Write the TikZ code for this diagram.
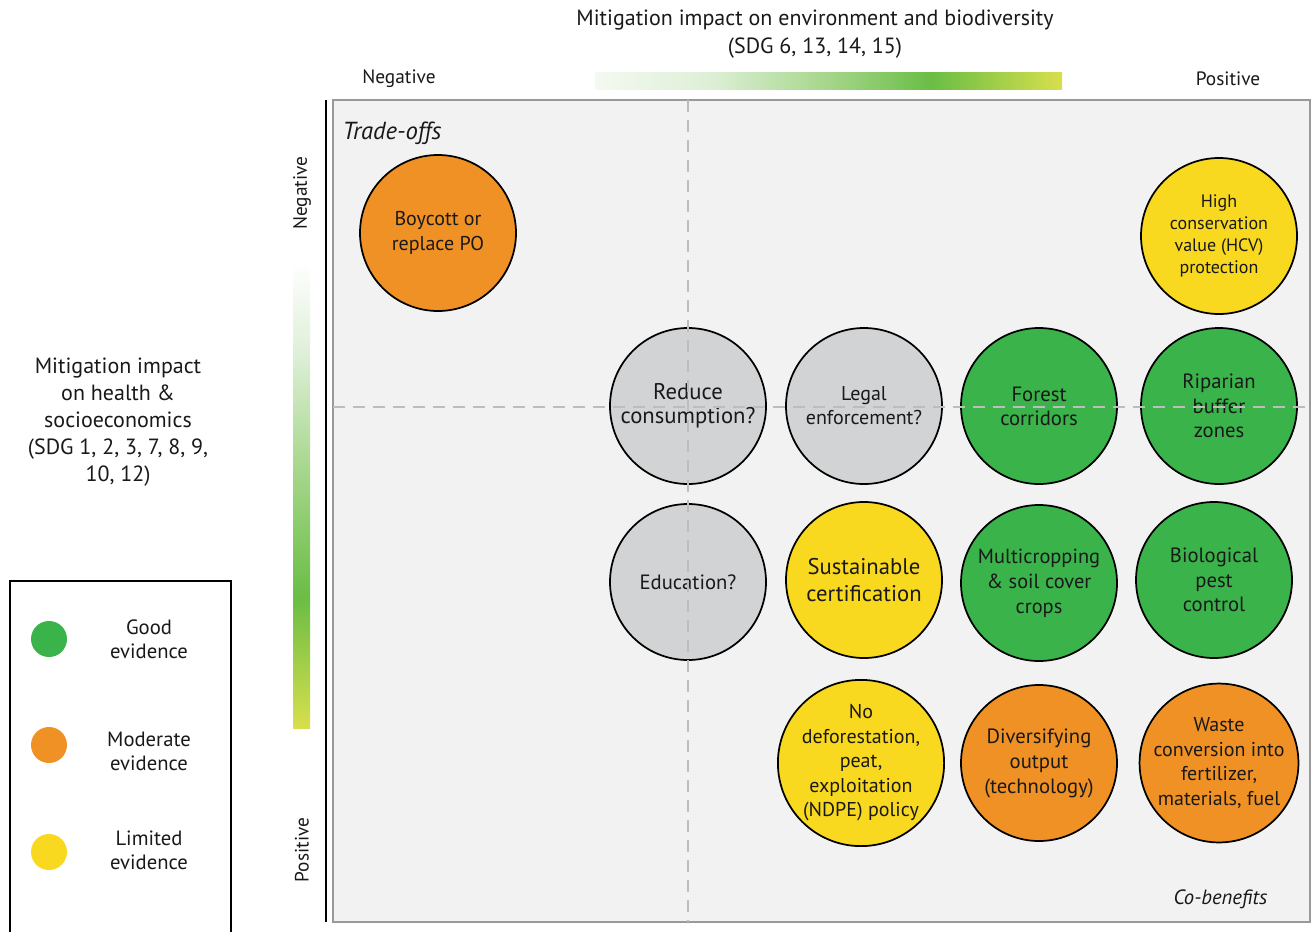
\documentclass[tikz,border=0pt]{standalone}
\usepackage{fontspec}
\setmainfont{PT Sans}
\definecolor{cgreen}{HTML}{39B34A}
\definecolor{corange}{HTML}{F09125}
\definecolor{cyellow}{HTML}{F9D820}
\definecolor{cgray}{HTML}{D1D3D4}
\definecolor{panel}{HTML}{F2F2F2}
\definecolor{dash}{HTML}{BDBDBD}
\definecolor{gA}{HTML}{F4F9F1}
\definecolor{gB}{HTML}{DDEFD6}
\definecolor{gC}{HTML}{A5D68A}
\definecolor{gD}{HTML}{6ABD45}
\definecolor{gE}{HTML}{D8DF4C}
\pgfdeclarehorizontalshading{topgrad}{100bp}{color(0bp)=(gA); color(25bp)=(gA); color(37.5bp)=(gB); color(50bp)=(gC); color(61bp)=(gD); color(75bp)=(gE); color(100bp)=(gE)}
\pgfdeclareverticalshading{leftgrad}{100bp}{color(0bp)=(gE); color(25bp)=(gE); color(39bp)=(gD); color(52.5bp)=(gC); color(65bp)=(gB); color(75bp)=(white); color(100bp)=(white)}
\newcommand{\fsz}[2]{\fontsize{#1}{#2}\selectfont}
\tikzset{
  bub/.style={circle, draw=black, line width=1.3pt, minimum size=117pt, inner sep=0pt, align=center, text=black!90},
  gbub/.style={bub, fill=cgreen},
  obub/.style={bub, fill=corange},
  ybub/.style={bub, fill=cyellow},
  rbub/.style={bub, fill=cgray},
  ldot/.style={circle, minimum size=27pt, inner sep=0pt},
  lbl/.style={align=center, text=black!90},
  qline/.style={draw=dash, line width=1.3pt, dash pattern=on 9pt off 6pt},
}
\begin{document}
\begin{tikzpicture}[x=0.75pt,y=-0.75pt]
\useasboundingbox (0,0) rectangle (1312,931);
% titles
\node[lbl, font=\fsz{16.5}{21}] (title) at (815,34) {Mitigation impact on environment and biodiversity\\(SDG 6, 13, 14, 15)};
\node[lbl, font=\fsz{14.5}{16}] (tneg) at (399,79) {Negative};
\node[lbl, font=\fsz{14.5}{16}] (tpos) at (1228,79) {Positive};
\shade[shading=topgrad] (595,73) rectangle (1062,89);
% left axis
\node[lbl, font=\fsz{16.5}{20.25}] (ltitle) at (118,422) {Mitigation impact\\on health \&\\socioeconomics\\(SDG 1, 2, 3, 7, 8, 9,\\10, 12)};
\node[lbl, font=\fsz{14.5}{16}, rotate=90] (lneg) at (302,193) {Negative};
\node[lbl, font=\fsz{14.5}{16}, rotate=90] (lpos) at (302,850) {Positive};
\shade[shading=leftgrad] (293,263) rectangle (310,728);
\draw[line width=1.2pt] (326,100) -- (326,922);
% panel
\draw[fill=panel, draw=black!40, line width=0.8pt] (333,100) rectangle (1310,922);
\node[font=\itshape\fsz{18.5}{20}, anchor=west, text=black!90] (to) at (338,133) {Trade-offs};
\node[font=\itshape\fsz{15.5}{18}, anchor=east, text=black!90] (cb) at (1272,899) {Co-benefits};
% bubbles
\node[obub, font=\fsz{15}{18.75}] (boy) at (438,233) {Boycott or\\replace PO};
\node[ybub, font=\fsz{13.5}{16.5}] (hcv) at (1219,236) {High\\conservation\\value (HCV)\\protection};
\node[rbub, font=\fsz{17}{18}] (red) at (688,406) {Reduce\\consumption?};
\node[rbub, font=\fsz{15}{18}] (leg) at (864,406) {Legal\\enforcement?};
\node[gbub, font=\fsz{15.5}{18}] (for) at (1039,406) {Forest\\corridors};
\node[gbub, font=\fsz{15.5}{18.4}] (rip) at (1219,406) {Riparian\\buffer\\zones};
\node[rbub, font=\fsz{15.5}{18}] (edu) at (688,582) {Education?};
\node[ybub, font=\fsz{17}{20}] (sus) at (864,580) {Sustainable\\certification};
\node[gbub, font=\fsz{15.3}{18.75}] (mul) at (1039,583) {Multicropping\\\& soil cover\\crops};
\node[gbub, font=\fsz{15.5}{18.4}] (bio) at (1214,580) {Biological\\pest\\control};
\node[ybub, font=\fsz{15}{18.4}] (ndpe) at (861,763) {No\\deforestation,\\peat,\\exploitation\\(NDPE) policy};
\node[obub, font=\fsz{15.5}{18.75}] (div) at (1039,763) {Diversifying\\output\\(technology)};
\node[obub, font=\fsz{15}{18.4}] (was) at (1219,763) {Waste\\conversion into\\fertilizer,\\materials, fuel};
% dashed quadrant lines
\coordinate (vt) at (688,100);
\coordinate (vb) at (688,922);
\coordinate (hl) at (333,407);
\coordinate (hr) at (1310,407);
\draw[qline] (vt) -- (vb);
\draw[qline] (hl) -- (hr);
% legend
\draw[line width=0.8pt] (10,945) -- (10,581) -- (231,581) -- (231,945);
\node[ldot, fill=cgreen] (d1) at (49,639) {};
\node[ldot, fill=corange] (d2) at (49,745) {};
\node[ldot, fill=cyellow] (d3) at (49,852) {};
\node[lbl, font=\fsz{15.5}{18}] (l1) at (149,639) {Good\\evidence};
\node[lbl, font=\fsz{15.5}{18}] (l2) at (149,751) {Moderate\\evidence};
\node[lbl, font=\fsz{15.5}{18}] (l3) at (149,850) {Limited\\evidence};
\end{tikzpicture}
\end{document}
